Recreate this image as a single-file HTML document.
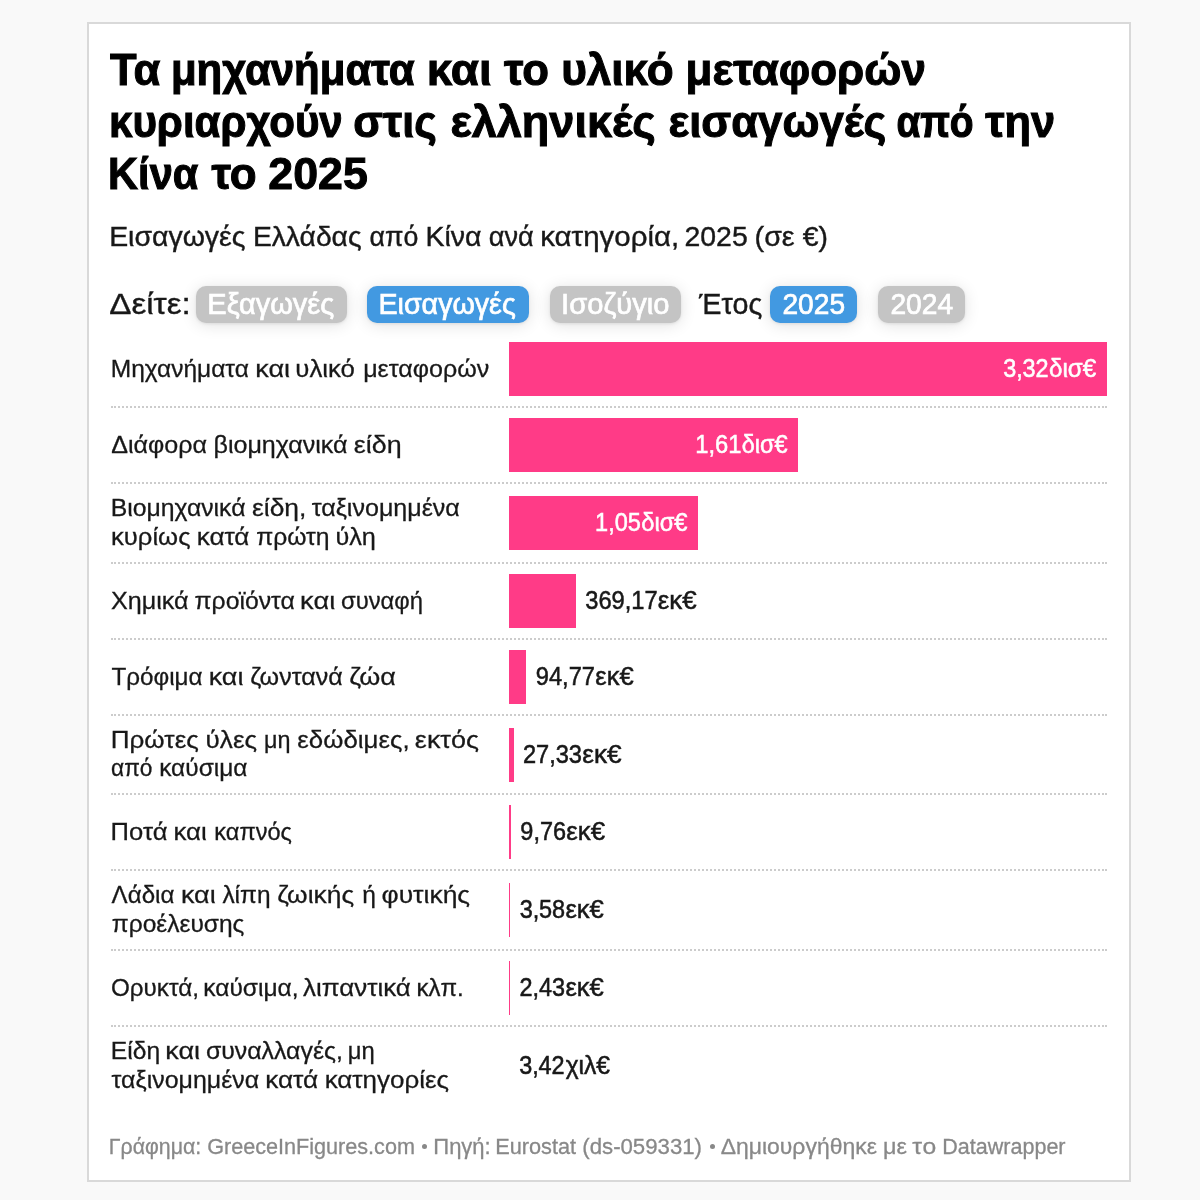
<!DOCTYPE html>
<html lang="el"><head><meta charset="utf-8"><title>Chart</title>
<style>
html,body{margin:0;padding:0}
body{width:1200px;height:1200px;background:#f9f9f9;position:relative;overflow:hidden;font-family:"Liberation Sans", sans-serif;}
#card{position:absolute;left:87px;top:22px;width:1040px;height:1156px;border:2px solid #d9d9d9;background:#fff}
.t{position:absolute;left:0;white-space:pre;line-height:1;margin:0;transform-origin:0 0}
#txt{position:absolute;left:0;top:0;width:1200px;height:1200px;will-change:transform}
.pill{position:absolute;border-radius:10px;box-shadow:0 2px 16px rgba(0,0,0,.12),0 1px 3px rgba(0,0,0,.08)}
.bar{position:absolute;background:#ff3b87}
.sep{position:absolute;left:111px;width:996px;height:0;border-top:2px dotted #cccccc}
</style></head><body>
<div id="card"></div>
<div class="pill" style="left:196px;top:286px;width:151px;height:37px;background:#c4c4c4"></div>
<div class="pill" style="left:367px;top:286px;width:162px;height:37px;background:#4299e1"></div>
<div class="pill" style="left:550px;top:286px;width:131px;height:37px;background:#c4c4c4"></div>
<div class="pill" style="left:770px;top:286px;width:87px;height:37px;background:#4299e1"></div>
<div class="pill" style="left:878px;top:286px;width:87px;height:37px;background:#c4c4c4"></div>
<div class="sep" style="top:406px"></div>
<div class="sep" style="top:482px"></div>
<div class="sep" style="top:562px"></div>
<div class="sep" style="top:638px"></div>
<div class="sep" style="top:714px"></div>
<div class="sep" style="top:793px"></div>
<div class="sep" style="top:869px"></div>
<div class="sep" style="top:949px"></div>
<div class="sep" style="top:1025px"></div>
<div class="bar" style="left:509px;top:342px;width:598px;height:54px"></div>
<div class="bar" style="left:509px;top:418px;width:289px;height:54px"></div>
<div class="bar" style="left:509px;top:496px;width:189px;height:54px"></div>
<div class="bar" style="left:509px;top:574px;width:67px;height:54px"></div>
<div class="bar" style="left:509px;top:650px;width:17px;height:54px"></div>
<div class="bar" style="left:509px;top:727.5px;width:5px;height:54px"></div>
<div class="bar" style="left:509px;top:805px;width:2.2px;height:54px"></div>
<div class="bar" style="left:509px;top:883px;width:1px;height:54px"></div>
<div class="bar" style="left:509px;top:961px;width:0.7px;height:54px"></div>
<div style="position:absolute;left:422px;top:1143.8px;width:5px;height:5px;border-radius:50%;background:#888"></div>
<div style="position:absolute;left:709.75px;top:1143.8px;width:5px;height:5px;border-radius:50%;background:#888"></div>
<div id="txt">
<div class="t" style="top:47.85px;font-size:44px;font-weight:700;color:#000;letter-spacing:0.000px;transform:translateX(110.02px) scaleX(0.9892);-webkit-text-stroke:1.01095px #000">Τα</div>
<div class="t" style="top:47.85px;font-size:44px;font-weight:700;color:#000;letter-spacing:0.000px;transform:translateX(170.89px) scaleX(0.9546);-webkit-text-stroke:1.04757px #000">μηχανήματα</div>
<div class="t" style="top:47.85px;font-size:44px;font-weight:700;color:#000;letter-spacing:-0.000px;transform:translateX(426.86px) scaleX(1.0390);-webkit-text-stroke:0.962493px #000">και</div>
<div class="t" style="top:47.85px;font-size:44px;font-weight:700;color:#000;letter-spacing:0.000px;transform:translateX(503.92px) scaleX(0.9927);-webkit-text-stroke:1.00737px #000">το</div>
<div class="t" style="top:47.85px;font-size:44px;font-weight:700;color:#000;letter-spacing:0.000px;transform:translateX(561.13px) scaleX(1.0015);-webkit-text-stroke:0.998493px #000">υλικό</div>
<div class="t" style="top:47.85px;font-size:44px;font-weight:700;color:#000;letter-spacing:0.000px;transform:translateX(685.61px) scaleX(0.9992);-webkit-text-stroke:1.00077px #000">μεταφορών</div>
<div class="t" style="top:99.60px;font-size:44px;font-weight:700;color:#000;letter-spacing:0.000px;transform:translateX(108.92px) scaleX(0.9562);-webkit-text-stroke:1.04582px #000">κυριαρχούν</div>
<div class="t" style="top:99.60px;font-size:44px;font-weight:700;color:#000;letter-spacing:0.000px;transform:translateX(353.22px) scaleX(0.9847);-webkit-text-stroke:1.0155px #000">στις</div>
<div class="t" style="top:99.60px;font-size:44px;font-weight:700;color:#000;letter-spacing:0.000px;transform:translateX(450.39px) scaleX(1.0235);-webkit-text-stroke:0.977013px #000">ελληνικές</div>
<div class="t" style="top:99.60px;font-size:44px;font-weight:700;color:#000;letter-spacing:0.000px;transform:translateX(668.38px) scaleX(0.9942);-webkit-text-stroke:1.00585px #000">εισαγωγές</div>
<div class="t" style="top:99.60px;font-size:44px;font-weight:700;color:#000;letter-spacing:-0.339px;transform:translateX(896.61px) scaleX(0.8849);-webkit-text-stroke:1.13003px #000">από</div>
<div class="t" style="top:99.60px;font-size:44px;font-weight:700;color:#000;letter-spacing:0.000px;transform:translateX(985.21px) scaleX(0.9859);-webkit-text-stroke:1.0143px #000">την</div>
<div class="t" style="top:152.15px;font-size:44px;font-weight:700;color:#000;letter-spacing:0.000px;transform:translateX(108.12px) scaleX(0.9438);-webkit-text-stroke:1.05953px #000">Κίνα</div>
<div class="t" style="top:152.15px;font-size:44px;font-weight:700;color:#000;letter-spacing:0.000px;transform:translateX(211.45px) scaleX(0.9989);-webkit-text-stroke:1.00108px #000">το</div>
<div class="t" style="top:152.15px;font-size:44px;font-weight:700;color:#000;letter-spacing:0.000px;transform:translateX(268.37px) scaleX(1.0155);-webkit-text-stroke:0.984779px #000">2025</div>
<div class="t" style="top:221.77px;font-size:28.5px;font-weight:400;color:#181818;letter-spacing:0.000px;transform:translateX(109.13px) scaleX(0.9979);-webkit-text-stroke:0.400826px #181818">Εισαγωγές</div>
<div class="t" style="top:221.77px;font-size:28.5px;font-weight:400;color:#181818;letter-spacing:0.000px;transform:translateX(252.88px) scaleX(0.9912);-webkit-text-stroke:0.40357px #181818">Ελλάδας</div>
<div class="t" style="top:221.77px;font-size:28.5px;font-weight:400;color:#181818;letter-spacing:0.000px;transform:translateX(369.62px) scaleX(0.9367);-webkit-text-stroke:0.42701px #181818">από</div>
<div class="t" style="top:221.77px;font-size:28.5px;font-weight:400;color:#181818;letter-spacing:0.000px;transform:translateX(425.47px) scaleX(1.0010);-webkit-text-stroke:0.399604px #181818">Κίνα</div>
<div class="t" style="top:221.77px;font-size:28.5px;font-weight:400;color:#181818;letter-spacing:0.000px;transform:translateX(488.78px) scaleX(0.9517);-webkit-text-stroke:0.420313px #181818">ανά</div>
<div class="t" style="top:221.77px;font-size:28.5px;font-weight:400;color:#181818;letter-spacing:0.000px;transform:translateX(540.18px) scaleX(1.0328);-webkit-text-stroke:0.387296px #181818">κατηγορία,</div>
<div class="t" style="top:221.77px;font-size:28.5px;font-weight:400;color:#181818;letter-spacing:0.000px;transform:translateX(684.42px) scaleX(0.9985);-webkit-text-stroke:0.400606px #181818">2025</div>
<div class="t" style="top:221.77px;font-size:28.5px;font-weight:400;color:#181818;letter-spacing:0.000px;transform:translateX(754.59px) scaleX(1.0051);-webkit-text-stroke:0.397975px #181818">(σε</div>
<div class="t" style="top:221.77px;font-size:28.5px;font-weight:400;color:#181818;letter-spacing:0.000px;transform:translateX(802.77px) scaleX(0.9927);-webkit-text-stroke:0.402957px #181818">€)</div>
<div class="t" style="top:288.91px;font-size:30px;font-weight:400;color:#181818;letter-spacing:0.000px;transform:translateX(109.19px) scaleX(1.1082);-webkit-text-stroke:0.360934px #181818">Δείτε:</div>
<div class="t" style="top:288.91px;font-size:30px;font-weight:400;color:#fff;letter-spacing:0.000px;transform:translateX(207.35px) scaleX(0.9672);-webkit-text-stroke:0.723709px #fff">Εξαγωγές</div>
<div class="t" style="top:288.91px;font-size:30px;font-weight:400;color:#fff;letter-spacing:0.000px;transform:translateX(378.43px) scaleX(0.9546);-webkit-text-stroke:0.733314px #fff">Εισαγωγές</div>
<div class="t" style="top:288.91px;font-size:30px;font-weight:400;color:#fff;letter-spacing:0.000px;transform:translateX(561.12px) scaleX(0.9709);-webkit-text-stroke:0.720961px #fff">Ισοζύγιο</div>
<div class="t" style="top:288.91px;font-size:30px;font-weight:400;color:#181818;letter-spacing:0.000px;transform:translateX(699.11px) scaleX(0.9542);-webkit-text-stroke:0.419191px #181818">Έτος</div>
<div class="t" style="top:288.91px;font-size:30px;font-weight:400;color:#fff;letter-spacing:0.000px;transform:translateX(782.48px) scaleX(0.9370);-webkit-text-stroke:0.747076px #fff">2025</div>
<div class="t" style="top:288.91px;font-size:30px;font-weight:400;color:#fff;letter-spacing:0.000px;transform:translateX(890.43px) scaleX(0.9387);-webkit-text-stroke:0.745721px #fff">2024</div>
<div class="t" style="top:356.58px;font-size:24px;font-weight:400;color:#181818;letter-spacing:0.000px;transform:translateX(110.78px) scaleX(1.0210);-webkit-text-stroke:0.293821px #181818">Μηχανήματα</div>
<div class="t" style="top:356.58px;font-size:24px;font-weight:400;color:#181818;letter-spacing:0.000px;transform:translateX(255.31px) scaleX(1.1242);-webkit-text-stroke:0.266846px #181818">και</div>
<div class="t" style="top:356.58px;font-size:24px;font-weight:400;color:#181818;letter-spacing:0.000px;transform:translateX(295.31px) scaleX(1.0745);-webkit-text-stroke:0.279189px #181818">υλικό</div>
<div class="t" style="top:356.58px;font-size:24px;font-weight:400;color:#181818;letter-spacing:-0.000px;transform:translateX(363.16px) scaleX(1.0443);-webkit-text-stroke:0.287286px #181818">μεταφορών</div>
<div class="t" style="top:432.58px;font-size:24px;font-weight:400;color:#181818;letter-spacing:0.000px;transform:translateX(111.27px) scaleX(1.0445);-webkit-text-stroke:0.287215px #181818">Διάφορα</div>
<div class="t" style="top:432.58px;font-size:24px;font-weight:400;color:#181818;letter-spacing:0.000px;transform:translateX(213.46px) scaleX(1.0445);-webkit-text-stroke:0.287219px #181818">βιομηχανικά</div>
<div class="t" style="top:432.58px;font-size:24px;font-weight:400;color:#181818;letter-spacing:0.000px;transform:translateX(353.79px) scaleX(1.1193);-webkit-text-stroke:0.268027px #181818">είδη</div>
<div class="t" style="top:496.18px;font-size:24px;font-weight:400;color:#181818;letter-spacing:0.000px;transform:translateX(110.75px) scaleX(1.0318);-webkit-text-stroke:0.290763px #181818">Βιομηχανικά</div>
<div class="t" style="top:496.18px;font-size:24px;font-weight:400;color:#181818;letter-spacing:-0.000px;transform:translateX(252.02px) scaleX(1.1002);-webkit-text-stroke:0.272687px #181818">είδη,</div>
<div class="t" style="top:496.18px;font-size:24px;font-weight:400;color:#181818;letter-spacing:0.000px;transform:translateX(311.63px) scaleX(1.0436);-webkit-text-stroke:0.287476px #181818">ταξινομημένα</div>
<div class="t" style="top:524.98px;font-size:24px;font-weight:400;color:#181818;letter-spacing:0.000px;transform:translateX(110.96px) scaleX(1.0687);-webkit-text-stroke:0.280704px #181818">κυρίως</div>
<div class="t" style="top:524.98px;font-size:24px;font-weight:400;color:#181818;letter-spacing:-0.000px;transform:translateX(196.69px) scaleX(1.0853);-webkit-text-stroke:0.276411px #181818">κατά</div>
<div class="t" style="top:524.98px;font-size:24px;font-weight:400;color:#181818;letter-spacing:0.000px;transform:translateX(256.14px) scaleX(1.0282);-webkit-text-stroke:0.291775px #181818">πρώτη</div>
<div class="t" style="top:524.98px;font-size:24px;font-weight:400;color:#181818;letter-spacing:0.000px;transform:translateX(335.39px) scaleX(1.0521);-webkit-text-stroke:0.28515px #181818">ύλη</div>
<div class="t" style="top:588.58px;font-size:24px;font-weight:400;color:#181818;letter-spacing:0.000px;transform:translateX(111.04px) scaleX(1.0470);-webkit-text-stroke:0.28653px #181818">Χημικά</div>
<div class="t" style="top:588.58px;font-size:24px;font-weight:400;color:#181818;letter-spacing:0.000px;transform:translateX(194.52px) scaleX(1.0309);-webkit-text-stroke:0.290996px #181818">προϊόντα</div>
<div class="t" style="top:588.58px;font-size:24px;font-weight:400;color:#181818;letter-spacing:0.060px;transform:translateX(300.07px) scaleX(1.1317);-webkit-text-stroke:0.265079px #181818">και</div>
<div class="t" style="top:588.58px;font-size:24px;font-weight:400;color:#181818;letter-spacing:0.000px;transform:translateX(340.95px) scaleX(0.9924);-webkit-text-stroke:0.302287px #181818">συναφή</div>
<div class="t" style="top:664.58px;font-size:24px;font-weight:400;color:#181818;letter-spacing:0.000px;transform:translateX(111.51px) scaleX(1.0087);-webkit-text-stroke:0.297412px #181818">Τρόφιμα</div>
<div class="t" style="top:664.58px;font-size:24px;font-weight:400;color:#181818;letter-spacing:0.000px;transform:translateX(208.68px) scaleX(1.1217);-webkit-text-stroke:0.267455px #181818">και</div>
<div class="t" style="top:664.58px;font-size:24px;font-weight:400;color:#181818;letter-spacing:0.000px;transform:translateX(250.26px) scaleX(1.0428);-webkit-text-stroke:0.287681px #181818">ζωντανά</div>
<div class="t" style="top:664.58px;font-size:24px;font-weight:400;color:#181818;letter-spacing:0.000px;transform:translateX(349.20px) scaleX(1.1218);-webkit-text-stroke:0.267424px #181818">ζώα</div>
<div class="t" style="top:727.68px;font-size:24px;font-weight:400;color:#181818;letter-spacing:0.000px;transform:translateX(110.70px) scaleX(1.0864);-webkit-text-stroke:0.276132px #181818">Πρώτες</div>
<div class="t" style="top:727.68px;font-size:24px;font-weight:400;color:#181818;letter-spacing:0.000px;transform:translateX(205.61px) scaleX(1.0856);-webkit-text-stroke:0.276338px #181818">ύλες</div>
<div class="t" style="top:727.68px;font-size:24px;font-weight:400;color:#181818;letter-spacing:0.000px;transform:translateX(263.91px) scaleX(0.9741);-webkit-text-stroke:0.307978px #181818">μη</div>
<div class="t" style="top:727.68px;font-size:24px;font-weight:400;color:#181818;letter-spacing:0.000px;transform:translateX(297.35px) scaleX(1.0763);-webkit-text-stroke:0.278731px #181818">εδώδιμες,</div>
<div class="t" style="top:727.68px;font-size:24px;font-weight:400;color:#181818;letter-spacing:-0.000px;transform:translateX(414.86px) scaleX(1.1234);-webkit-text-stroke:0.267055px #181818">εκτός</div>
<div class="t" style="top:756.48px;font-size:24px;font-weight:400;color:#181818;letter-spacing:0.000px;transform:translateX(111.05px) scaleX(0.9454);-webkit-text-stroke:0.317317px #181818">από</div>
<div class="t" style="top:756.48px;font-size:24px;font-weight:400;color:#181818;letter-spacing:0.000px;transform:translateX(159.17px) scaleX(1.0194);-webkit-text-stroke:0.294286px #181818">καύσιμα</div>
<div class="t" style="top:819.58px;font-size:24px;font-weight:400;color:#181818;letter-spacing:0.000px;transform:translateX(110.61px) scaleX(1.0645);-webkit-text-stroke:0.28183px #181818">Ποτά</div>
<div class="t" style="top:819.58px;font-size:24px;font-weight:400;color:#181818;letter-spacing:0.000px;transform:translateX(173.51px) scaleX(1.0765);-webkit-text-stroke:0.278686px #181818">και</div>
<div class="t" style="top:819.58px;font-size:24px;font-weight:400;color:#181818;letter-spacing:0.000px;transform:translateX(214.35px) scaleX(0.9819);-webkit-text-stroke:0.30554px #181818">καπνός</div>
<div class="t" style="top:883.18px;font-size:24px;font-weight:400;color:#181818;letter-spacing:0.000px;transform:translateX(111.62px) scaleX(1.0036);-webkit-text-stroke:0.298918px #181818">Λάδια</div>
<div class="t" style="top:883.18px;font-size:24px;font-weight:400;color:#181818;letter-spacing:0.000px;transform:translateX(180.97px) scaleX(1.1214);-webkit-text-stroke:0.267521px #181818">και</div>
<div class="t" style="top:883.18px;font-size:24px;font-weight:400;color:#181818;letter-spacing:0.000px;transform:translateX(222.38px) scaleX(1.0184);-webkit-text-stroke:0.294572px #181818">λίπη</div>
<div class="t" style="top:883.18px;font-size:24px;font-weight:400;color:#181818;letter-spacing:0.000px;transform:translateX(277.23px) scaleX(1.0985);-webkit-text-stroke:0.273099px #181818">ζωικής</div>
<div class="t" style="top:883.18px;font-size:24px;font-weight:400;color:#181818;letter-spacing:0.000px;transform:translateX(362.15px) scaleX(1.0245);-webkit-text-stroke:0.292826px #181818">ή</div>
<div class="t" style="top:883.18px;font-size:24px;font-weight:400;color:#181818;letter-spacing:0.000px;transform:translateX(381.49px) scaleX(1.1022);-webkit-text-stroke:0.272177px #181818">φυτικής</div>
<div class="t" style="top:911.98px;font-size:24px;font-weight:400;color:#181818;letter-spacing:0.000px;transform:translateX(111.75px) scaleX(1.0220);-webkit-text-stroke:0.293537px #181818">προέλευσης</div>
<div class="t" style="top:975.58px;font-size:24px;font-weight:400;color:#181818;letter-spacing:0.000px;transform:translateX(110.96px) scaleX(1.0098);-webkit-text-stroke:0.297103px #181818">Ορυκτά,</div>
<div class="t" style="top:975.58px;font-size:24px;font-weight:400;color:#181818;letter-spacing:-0.000px;transform:translateX(203.30px) scaleX(1.0210);-webkit-text-stroke:0.293833px #181818">καύσιμα,</div>
<div class="t" style="top:975.58px;font-size:24px;font-weight:400;color:#181818;letter-spacing:0.000px;transform:translateX(303.08px) scaleX(1.0785);-webkit-text-stroke:0.278153px #181818">λιπαντικά</div>
<div class="t" style="top:975.58px;font-size:24px;font-weight:400;color:#181818;letter-spacing:0.000px;transform:translateX(416.44px) scaleX(1.0007);-webkit-text-stroke:0.299795px #181818">κλπ.</div>
<div class="t" style="top:1039.18px;font-size:24px;font-weight:400;color:#181818;letter-spacing:0.000px;transform:translateX(110.78px) scaleX(1.0265);-webkit-text-stroke:0.292248px #181818">Είδη</div>
<div class="t" style="top:1039.18px;font-size:24px;font-weight:400;color:#181818;letter-spacing:0.000px;transform:translateX(165.31px) scaleX(1.1242);-webkit-text-stroke:0.266846px #181818">και</div>
<div class="t" style="top:1039.18px;font-size:24px;font-weight:400;color:#181818;letter-spacing:0.000px;transform:translateX(205.89px) scaleX(1.0357);-webkit-text-stroke:0.289653px #181818">συναλλαγές,</div>
<div class="t" style="top:1039.18px;font-size:24px;font-weight:400;color:#181818;letter-spacing:0.000px;transform:translateX(347.69px) scaleX(0.9911);-webkit-text-stroke:0.30269px #181818">μη</div>
<div class="t" style="top:1067.98px;font-size:24px;font-weight:400;color:#181818;letter-spacing:0.000px;transform:translateX(111.59px) scaleX(1.0393);-webkit-text-stroke:0.288664px #181818">ταξινομημένα</div>
<div class="t" style="top:1067.98px;font-size:24px;font-weight:400;color:#181818;letter-spacing:0.000px;transform:translateX(265.19px) scaleX(1.0909);-webkit-text-stroke:0.274995px #181818">κατά</div>
<div class="t" style="top:1067.98px;font-size:24px;font-weight:400;color:#181818;letter-spacing:0.000px;transform:translateX(324.66px) scaleX(1.0819);-webkit-text-stroke:0.277287px #181818">κατηγορίες</div>
<div class="t" style="top:355.39px;font-size:26px;font-weight:400;color:#fff;letter-spacing:-0.182px;transform:translateX(1003.31px) scaleX(0.9017);-webkit-text-stroke:0.554508px #fff">3,32</div>
<div class="t" style="top:355.39px;font-size:26px;font-weight:400;color:#fff;letter-spacing:0.000px;transform:translateX(1048.93px) scaleX(0.9298);-webkit-text-stroke:0.537771px #fff">δισ€</div>
<div class="t" style="top:431.39px;font-size:26px;font-weight:400;color:#fff;letter-spacing:0.000px;transform:translateX(695.23px) scaleX(0.9126);-webkit-text-stroke:0.547873px #fff">1,61</div>
<div class="t" style="top:431.39px;font-size:26px;font-weight:400;color:#fff;letter-spacing:0.000px;transform:translateX(741.76px) scaleX(0.9019);-webkit-text-stroke:0.554405px #fff">δισ€</div>
<div class="t" style="top:509.39px;font-size:26px;font-weight:400;color:#fff;letter-spacing:0.000px;transform:translateX(595.09px) scaleX(0.9045);-webkit-text-stroke:0.552776px #fff">1,05</div>
<div class="t" style="top:509.39px;font-size:26px;font-weight:400;color:#fff;letter-spacing:0.000px;transform:translateX(641.29px) scaleX(0.9115);-webkit-text-stroke:0.548536px #fff">δισ€</div>
<div class="t" style="top:587.39px;font-size:26px;font-weight:400;color:#181818;letter-spacing:0.000px;transform:translateX(585.31px) scaleX(0.9099);-webkit-text-stroke:0.549507px #181818">369,17</div>
<div class="t" style="top:587.39px;font-size:26px;font-weight:400;color:#181818;letter-spacing:0.000px;transform:translateX(657.73px) scaleX(0.9960);-webkit-text-stroke:0.50201px #181818">εκ€</div>
<div class="t" style="top:663.39px;font-size:26px;font-weight:400;color:#181818;letter-spacing:0.000px;transform:translateX(535.81px) scaleX(0.9095);-webkit-text-stroke:0.54973px #181818">94,77</div>
<div class="t" style="top:663.39px;font-size:26px;font-weight:400;color:#181818;letter-spacing:0.000px;transform:translateX(595.30px) scaleX(0.9791);-webkit-text-stroke:0.510695px #181818">εκ€</div>
<div class="t" style="top:740.89px;font-size:26px;font-weight:400;color:#181818;letter-spacing:0.000px;transform:translateX(522.89px) scaleX(0.9085);-webkit-text-stroke:0.550385px #181818">27,33</div>
<div class="t" style="top:740.89px;font-size:26px;font-weight:400;color:#181818;letter-spacing:0.000px;transform:translateX(582.29px) scaleX(1.0078);-webkit-text-stroke:0.496119px #181818">εκ€</div>
<div class="t" style="top:818.39px;font-size:26px;font-weight:400;color:#181818;letter-spacing:0.000px;transform:translateX(520.34px) scaleX(0.9021);-webkit-text-stroke:0.554244px #181818">9,76</div>
<div class="t" style="top:818.39px;font-size:26px;font-weight:400;color:#181818;letter-spacing:0.000px;transform:translateX(566.36px) scaleX(0.9914);-webkit-text-stroke:0.504339px #181818">εκ€</div>
<div class="t" style="top:896.39px;font-size:26px;font-weight:400;color:#181818;letter-spacing:-0.182px;transform:translateX(519.81px) scaleX(0.9027);-webkit-text-stroke:0.55388px #181818">3,58</div>
<div class="t" style="top:896.39px;font-size:26px;font-weight:400;color:#181818;letter-spacing:0.000px;transform:translateX(565.39px) scaleX(0.9824);-webkit-text-stroke:0.508945px #181818">εκ€</div>
<div class="t" style="top:974.39px;font-size:26px;font-weight:400;color:#181818;letter-spacing:0.000px;transform:translateX(519.54px) scaleX(0.9013);-webkit-text-stroke:0.554765px #181818">2,43</div>
<div class="t" style="top:974.39px;font-size:26px;font-weight:400;color:#181818;letter-spacing:0.000px;transform:translateX(565.39px) scaleX(0.9824);-webkit-text-stroke:0.508945px #181818">εκ€</div>
<div class="t" style="top:1052.39px;font-size:26px;font-weight:400;color:#181818;letter-spacing:-0.182px;transform:translateX(519.31px) scaleX(0.9017);-webkit-text-stroke:0.554508px #181818">3,42</div>
<div class="t" style="top:1052.39px;font-size:26px;font-weight:400;color:#181818;letter-spacing:0.000px;transform:translateX(565.67px) scaleX(0.9465);-webkit-text-stroke:0.528275px #181818">χιλ€</div>
<div class="t" style="top:1136.08px;font-size:22px;font-weight:400;color:#888888;letter-spacing:0.000px;transform:translateX(108.87px) scaleX(0.9684);-webkit-text-stroke:0.309782px #888888">Γράφημα:</div>
<div class="t" style="top:1136.08px;font-size:22px;font-weight:400;color:#888888;letter-spacing:0.000px;transform:translateX(207.15px) scaleX(0.9822);-webkit-text-stroke:0.305433px #888888">GreeceInFigures.com</div>
<div class="t" style="top:1136.08px;font-size:22px;font-weight:400;color:#888888;letter-spacing:0.000px;transform:translateX(433.25px) scaleX(1.0000);-webkit-text-stroke:0.299987px #888888">Πηγή:</div>
<div class="t" style="top:1136.08px;font-size:22px;font-weight:400;color:#888888;letter-spacing:0.000px;transform:translateX(495.24px) scaleX(0.9870);-webkit-text-stroke:0.303961px #888888">Eurostat</div>
<div class="t" style="top:1136.08px;font-size:22px;font-weight:400;color:#888888;letter-spacing:-0.000px;transform:translateX(582.29px) scaleX(1.0091);-webkit-text-stroke:0.297295px #888888">(ds-059331)</div>
<div class="t" style="top:1136.08px;font-size:22px;font-weight:400;color:#888888;letter-spacing:0.000px;transform:translateX(720.65px) scaleX(1.0429);-webkit-text-stroke:0.287662px #888888">Δημιουργήθηκε</div>
<div class="t" style="top:1136.08px;font-size:22px;font-weight:400;color:#888888;letter-spacing:-0.000px;transform:translateX(882.92px) scaleX(1.0635);-webkit-text-stroke:0.282086px #888888">με</div>
<div class="t" style="top:1136.08px;font-size:22px;font-weight:400;color:#888888;letter-spacing:0.869px;transform:translateX(912.24px) scaleX(1.1221);-webkit-text-stroke:0.267347px #888888">το</div>
<div class="t" style="top:1136.08px;font-size:22px;font-weight:400;color:#888888;letter-spacing:0.000px;transform:translateX(942.24px) scaleX(0.9790);-webkit-text-stroke:0.306426px #888888">Datawrapper</div>
</div>
</body></html>
